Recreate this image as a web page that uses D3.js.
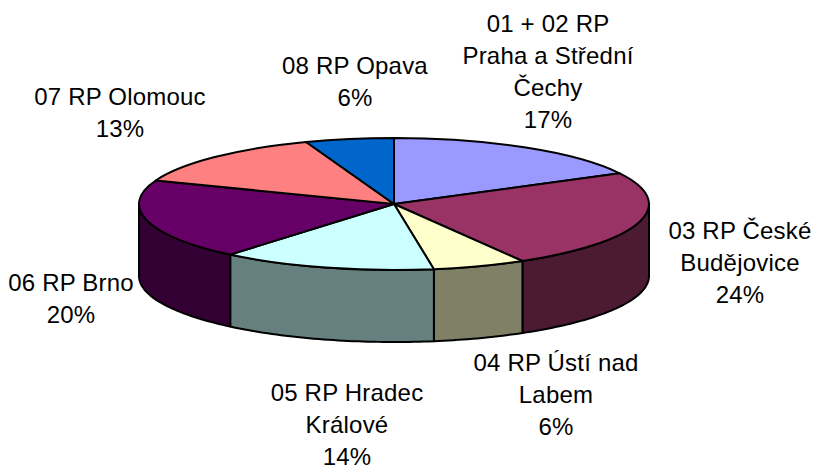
<!DOCTYPE html>
<html>
<head>
<meta charset="utf-8">
<script src="https://cdn.jsdelivr.net/npm/d3@7"></script>
<style>
  html, body { margin: 0; background: #fff; }
  text { font-family: "Liberation Sans", Arial, sans-serif; font-size: 24px; letter-spacing: 0.2px; fill: #000; }
</style>
</head>
<body>
<div id="chart"></div>
<script>
const labels = [
  ['01 + 02 RP', 'Praha a Střední', 'Čechy'],
  ['03 RP České', 'Budějovice'],
  ['04 RP Ústí nad', 'Labem'],
  ['05 RP Hradec', 'Králové'],
  ['06 RP Brno'],
  ['07 RP Olomouc'],
  ['08 RP Opava'],
];
// printed percentages
const values = [17, 24, 6, 14, 20, 13, 6];
// slice sizes, a bit finer than the printed numbers
const shares = [17.3, 24.3, 5.9, 13.6, 19.7, 13.6, 5.6];
const topColors = ['#9999ff', '#993366', '#ffffcc', '#ccffff', '#660066', '#ff8080', '#0066cc'];
const sideColors = ['#4d4d80', '#4d1a33', '#808066', '#668080', '#330033', '#804040', '#003366'];

// label centre x and first baseline
const labelAnchors = [[548, 32], [740, 239], [556, 371], [347, 401], [71, 291], [120, 105], [355, 74]];

const width = 814;
const height = 470;
const cx = 394;
const cy = 204;
const rx = 255;
const ry = 66;
const depth = 72;
const lineGap = 32;

const svg = d3.select('#chart').append('svg').attr('width', width).attr('height', height);

const arcs = d3.pie().sort(null).value((d) => d)(shares);

const px = (a) => cx + rx * Math.sin(a);
const py = (a) => cy - ry * Math.cos(a);

// front wall, only the part of each slice between 3 and 9 o'clock shows
const wall = d3.area()
  .x((a) => px(a))
  .y0((a) => py(a))
  .y1((a) => py(a) + depth);

svg.append('g').selectAll('path')
  .data(arcs)
  .enter()
  .append('path')
  .attr('d', (d) => {
    const a0 = Math.max(d.startAngle, Math.PI / 2);
    const a1 = Math.min(d.endAngle, Math.PI * 1.5);
    if (a1 <= a0) return null;
    const steps = Math.ceil((a1 - a0) / 0.02);
    return wall(d3.range(steps + 1).map((i) => a0 + ((a1 - a0) * i) / steps));
  })
  .attr('fill', (d, i) => sideColors[i])
  .attr('stroke', '#000')
  .attr('stroke-width', 2)
  .attr('stroke-linejoin', 'round');

const arc = d3.arc().innerRadius(0).outerRadius(rx);

svg.append('g')
  .attr('transform', `translate(${cx},${cy}) scale(1,${ry / rx})`)
  .selectAll('path')
  .data(arcs)
  .enter()
  .append('path')
  .attr('d', arc)
  .attr('fill', (d, i) => topColors[i])
  .attr('stroke', '#000')
  .attr('stroke-width', 2)
  .attr('stroke-linejoin', 'round')
  .attr('vector-effect', 'non-scaling-stroke');

const text = svg.append('g').selectAll('text')
  .data(labels)
  .enter()
  .append('text')
  .attr('text-anchor', 'middle');

text.each(function (lines, i) {
  const [x, y] = labelAnchors[i];
  const all = lines.concat(`${values[i]}%`);
  d3.select(this).selectAll('tspan')
    .data(all)
    .enter()
    .append('tspan')
    .attr('x', x)
    .attr('y', (d, j) => y + j * lineGap)
    .text((d) => d);
});
</script>
</body>
</html>
